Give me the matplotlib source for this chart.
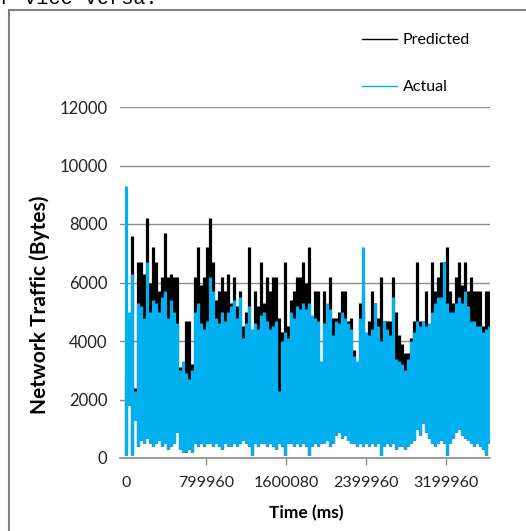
import numpy as np
import matplotlib.pyplot as plt
from matplotlib.lines import Line2D
from matplotlib.patches import Rectangle

plt.rcParams['font.family'] = ['Lato', 'DejaVu Sans']

# traffic, one sample every 30000 ms of the time axis
step_ms = 30000
predicted_peak = [
    2800, 2800, 7600, 2400, 6700, 6700, 6300, 8200, 6000, 7200,
    6700, 5700, 6200, 7700, 6200, 6300, 6200, 6200, 3100, 3200,
    4700, 4700, 3200, 6200, 7200, 5900, 6200, 7200, 8200, 6700,
    5400, 5700, 6200, 5700, 6300, 5300, 6200, 5200, 5700, 4500,
    5000, 7200, 3800, 5700, 5200, 6700, 5300, 6200, 5700, 6200,
    6200, 4800, 4300, 6700, 4500, 5400, 5700, 6200, 6200, 6700,
    6000, 7200, 4300, 5700, 5700, 3000, 5700, 5200, 6200, 4800,
    4800, 5000, 5700, 5700, 4700, 4800, 3700, 3000, 5300, 5700,
    3000, 4700,
    5700, 5300, 4800, 6200, 4700, 4700, 4700, 6200, 5000, 4200,
    3900, 3600, 3600, 4100, 4700, 6700, 4700, 4700, 5700, 4500,
    6700, 5700, 6200, 6700, 6700, 7200, 5700, 5300, 6200, 6700,
    5900, 6700, 5700, 6200, 5700, 5700, 5700, 4500, 5700, 5700,
]
actual_peak = [
    9300, 5000, 6300, 2300, 5300, 5200, 4800, 6700, 5000, 5400,
    5300, 5000, 5500, 5700, 4800, 5400, 5000, 4600, 3000, 3300,
    2900, 2700, 3000, 5000, 5300, 4600, 4400, 4700, 6200, 5700,
    4800, 4600, 5000, 4700, 5000, 5200, 5400, 4800, 5500, 4100,
    4600, 5200, 4400, 4600, 4400, 4900, 5000, 4700, 4400, 4500,
    4700, 2300, 4000, 4300, 4100, 5000, 4800, 5200, 5100, 5300,
    5100, 5300, 4900, 4800, 4700, 3300, 4600, 5300, 5100, 4200,
    4700, 4600, 5000, 4800, 4600, 4400, 3500, 3300, 4800, 7200,
    4300, 4200,
    4400, 5300, 4500, 4000, 4700, 4400, 4200, 5500, 3400, 3300,
    3200, 3000, 3400, 4000, 4300, 4700, 4500, 4700, 4500, 4600,
    5000, 5300, 5500, 5500, 6700, 5300, 5000, 5000, 5300, 5500,
    5300, 5700, 5200, 4700, 4700, 4500, 4500, 4300, 4400, 4500,
]
actual_floor = [
    100, 1800, 100, 1300, 400, 600, 500, 700, 500, 400,
    500, 600, 400, 500, 300, 400, 500, 900, 300, 200,
    200, 300, 200, 500, 400, 500, 400, 500, 500, 400,
    500, 400, 300, 500, 400, 400, 500, 400, 500, 600,
    500, 400, 100, 500, 400, 500, 500, 400, 500, 400,
    300, 500, 400, 100, 500, 500, 400, 500, 400, 500,
    400, 100, 400, 500, 400, 500, 500, 600, 400, 500,
    800, 900, 700, 800, 600, 500, 500, 400, 500, 400,
    500, 400,
    500, 400, 500, 100, 400, 500, 400, 500, 300, 400,
    400, 300, 400, 500, 600, 1000, 800, 1200, 900, 700,
    500, 400, 500, 600, 500, 100, 500, 700, 900, 1000,
    800, 700, 600, 500, 400, 500, 400, 300, 100, 500,
]
xtick_values = [799960, 1600080, 2399960, 3199960]
xtick_labels = ['799960', '1600080', '2399960', '3199960']
ytick_values = [0, 2000, 4000, 6000, 8000, 10000, 12000]

t = np.arange(len(actual_peak)) * step_ms

W, H = 526, 531
fig = plt.figure(figsize=(W / 100, H / 100), dpi=100)
ax = fig.add_axes([120 / W, 1 - 458 / H, 370 / W, 351 / H])

cyan = '#00b0f0'
grid_c = '#8c8c8c'
# each sample is drawn as the swing between its floor and its peak
ax.vlines(t, actual_floor, predicted_peak, color='black', lw=2.3)
ax.vlines(t, actual_floor, actual_peak, color=cyan, lw=2.3)

ax.set_xlim(-60000, 3636000)
ax.set_ylim(0, 12000)
ax.set_yticks(ytick_values)
ax.set_yticklabels([str(v) for v in ytick_values])
ax.set_xticks(xtick_values)
ax.set_xticklabels(xtick_labels)
ax.set_xticks([0], labels=['0'], minor=True)
ax.tick_params(axis='x', which='major', length=5, color=grid_c, width=1,
               labelsize=11.5, pad=8, labelcolor='#222222')
ax.tick_params(axis='x', which='minor', length=0, labelsize=11.5, pad=13,
               labelcolor='#222222')
ax.tick_params(axis='y', length=0, labelsize=12, pad=9, labelcolor='#222222')
ax.grid(axis='y', color=grid_c, lw=1)
ax.set_axisbelow(True)
for s in ['left', 'right', 'top']:
    ax.spines[s].set_visible(False)
ax.spines['bottom'].set_color(grid_c)
ax.spines['bottom'].set_linewidth(1.2)

fig.text(40 / W, 1 - 305 / H, 'Network Traffic (Bytes)', rotation=90,
         ha='center', va='center', fontsize=15, fontweight='bold')
fig.text(306 / W, 1 - 513 / H, 'Time (ms)', ha='center', va='center',
         fontsize=12.5, fontweight='bold')

handles = [Line2D([], [], color='black', lw=1),
           Line2D([], [], color=cyan, lw=1)]
fig.legend(handles, ['Predicted', 'Actual'], loc='upper left',
           bbox_to_anchor=(362 / W, 1 - 33 / H), frameon=False,
           fontsize=11.5, handlelength=2.2, handletextpad=0.35,
           labelspacing=2.05, borderpad=0, borderaxespad=0)

# frame around the figure and the cut-off text line above it
fig.add_artist(Rectangle((8.5 / W, -0.1), 2, 1.1 - 9.5 / H,
                         transform=fig.transFigure, fill=False,
                         edgecolor='#808080', lw=1.5))
fig.text(0, 1 - 4 / H, 'r vice versa.', family='Liberation Mono',
         fontsize=14.5, va='baseline', ha='left')

fig.savefig('out.png', dpi=100)
